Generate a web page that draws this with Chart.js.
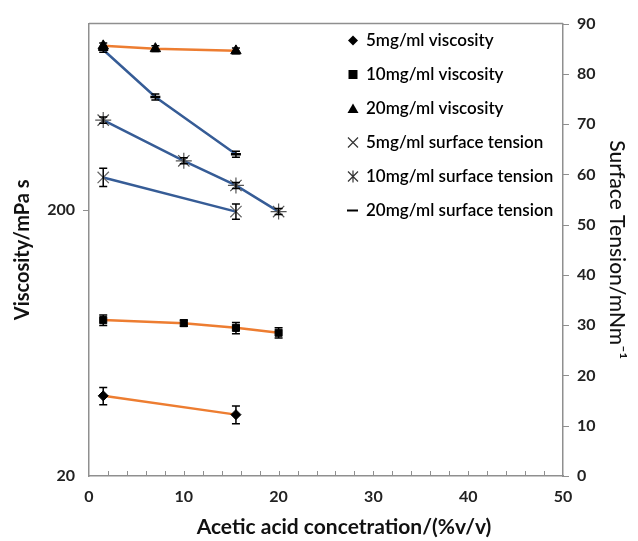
<!DOCTYPE html>
<html>
<head>
<meta charset="utf-8">
<script src="https://cdn.jsdelivr.net/npm/chart.js@4"></script>
<style>
html,body{margin:0;padding:0;background:#fff;}
#wrap{width:638px;height:541px;}
</style>
</head>
<body>
<div id="wrap"><canvas id="c" width="638" height="541"></canvas></div>
<script>
// ---- data ----
const visc5X = [1.5, 15.5];
const visc5 = [40, 34];
const visc5Err = [3, 2.6];

const visc10X = [1.5, 10, 15.5, 20];
const visc10 = [77, 75, 72, 69];
const visc10Err = [3.5, 2, 3.5, 3];

const visc20X = [1.5, 7, 15.5];
const visc20 = [825, 805, 790];
const visc20Err = [20, 20, 20];

const st5X = [1.5, 15.5];
const st5 = [59.4, 52.6];
const st5Err = [1.8, 1.5];

const st10X = [1.5, 10, 15.5, 20];
const st10 = [70.8, 62.7, 57.8, 52.6];
const st10Err = [0.6, 0.6, 0.6, 0.6];

const st20X = [1.5, 7, 15.5];
const st20 = [84.8, 75.4, 64];
const st20Err = [0.5, 0.6, 0.6];

const xTickLabels = [0, 10, 20, 30, 40, 50];
const leftTickLabels = [20, 200];
const rightTickLabels = [0, 10, 20, 30, 40, 50, 60, 70, 80, 90];

const seriesNames = ['5mg/ml viscosity', '10mg/ml viscosity', '20mg/ml viscosity',
  '5mg/ml surface tension', '10mg/ml surface tension', '20mg/ml surface tension'];
const xTitle = 'Acetic acid concetration/(%v/v)';

const ORANGE = '#ED7D31';
const BLUE = '#365C96';
const AXIS = '#8f8f8f';

function pts(xs, ys) { return xs.map((x, i) => ({x: x, y: ys[i]})); }

function ds(name, xs, ys, errs, axis, color, style, radius, ptColor, bw) {
  return {
    label: name, data: pts(xs, ys), errors: errs, yAxisID: axis,
    showLine: true, borderColor: color, borderWidth: 2.5,
    pointStyle: style, pointRadius: radius, pointHoverRadius: radius,
    pointBackgroundColor: ptColor, pointBorderColor: ptColor, pointBorderWidth: bw,
    fill: false, tension: 0
  };
}

const datasets = [
  ds(seriesNames[0], visc5X, visc5, visc5Err, 'yL', ORANGE, 'rectRot', 5, '#000', 1),
  ds(seriesNames[1], visc10X, visc10, visc10Err, 'yL', ORANGE, 'rect', 5, '#000', 1),
  ds(seriesNames[2], visc20X, visc20, visc20Err, 'yL', ORANGE, 'triangle', 6, '#000', 1),
  ds(seriesNames[3], st5X, st5, st5Err, 'yR', BLUE, 'crossRot', 8, '#666', 1.2),
  ds(seriesNames[4], st10X, st10, st10Err, 'yR', BLUE, 'star', 8, '#555', 1.2),
  ds(seriesNames[5], st20X, st20, st20Err, 'yR', BLUE, 'line', 5, '#000', 2.5)
];
const legendStyles = ['rectRot', 'rect', 'triangle', 'crossRot', 'star', 'line'];

const errorBars = {
  id: 'errorBars',
  afterDatasetsDraw(chart) {
    const ctx = chart.ctx;
    ctx.save();
    ctx.strokeStyle = '#000';
    ctx.lineWidth = 1.5;
    chart.data.datasets.forEach((d, i) => {
      const meta = chart.getDatasetMeta(i);
      const ys = chart.scales[d.yAxisID];
      d.data.forEach((p, j) => {
        const e = d.errors[j];
        if (!e) return;
        const x = meta.data[j].x;
        const y1 = ys.getPixelForValue(p.y + e);
        const y2 = ys.getPixelForValue(p.y - e);
        ctx.beginPath();
        ctx.moveTo(x, y1); ctx.lineTo(x, y2);
        ctx.moveTo(x - 4, y1); ctx.lineTo(x + 4, y1);
        ctx.moveTo(x - 4, y2); ctx.lineTo(x + 4, y2);
        ctx.stroke();
      });
    });
    ctx.restore();
  }
};

function drawMarker(ctx, style, x, y) {
  ctx.save();
  ctx.fillStyle = '#000'; ctx.strokeStyle = '#000';
  ctx.beginPath();
  if (style === 'rectRot') {
    ctx.moveTo(x, y - 5); ctx.lineTo(x + 5, y); ctx.lineTo(x, y + 5); ctx.lineTo(x - 5, y); ctx.closePath(); ctx.fill();
  } else if (style === 'rect') {
    ctx.rect(x - 4.5, y - 4.5, 9, 9); ctx.fill();
  } else if (style === 'triangle') {
    ctx.moveTo(x, y - 5); ctx.lineTo(x + 5.5, y + 4.5); ctx.lineTo(x - 5.5, y + 4.5); ctx.closePath(); ctx.fill();
  } else if (style === 'crossRot') {
    ctx.lineWidth = 1.2; ctx.strokeStyle = '#333';
    ctx.moveTo(x - 5, y - 5); ctx.lineTo(x + 5, y + 5); ctx.moveTo(x + 5, y - 5); ctx.lineTo(x - 5, y + 5); ctx.stroke();
  } else if (style === 'star') {
    ctx.lineWidth = 1.2; ctx.strokeStyle = '#333';
    ctx.moveTo(x - 5, y - 5); ctx.lineTo(x + 5, y + 5); ctx.moveTo(x + 5, y - 5); ctx.lineTo(x - 5, y + 5);
    ctx.moveTo(x, y - 6); ctx.lineTo(x, y + 6); ctx.stroke();
  } else if (style === 'line') {
    ctx.lineWidth = 2; ctx.moveTo(x - 6, y); ctx.lineTo(x + 5, y); ctx.stroke();
  }
  ctx.restore();
}

const frame = {
  id: 'frame',
  afterDraw(chart) {
    const ctx = chart.ctx;
    const a = chart.chartArea;
    const xs = chart.scales.x, yl = chart.scales.yL, yr = chart.scales.yR;
    ctx.save();
    ctx.strokeStyle = AXIS; ctx.lineWidth = 1.5;
    ctx.beginPath();
    ctx.moveTo(a.left, a.top); ctx.lineTo(a.right, a.top);
    ctx.stroke();
    ctx.lineWidth = 1;
    ctx.beginPath();
    for (let v = 2; v < 50; v += 2) {
      const px = Math.round(xs.getPixelForValue(v)) + 0.5;
      ctx.moveTo(px, a.bottom); ctx.lineTo(px, a.bottom - 5);
    }
    rightTickLabels.forEach(v => {
      const py = Math.round(yr.getPixelForValue(v)) + 0.5;
      ctx.moveTo(a.right, py); ctx.lineTo(a.right + 6, py);
    });
    leftTickLabels.forEach(v => {
      if (v === yl.min) return;
      const py = Math.round(yl.getPixelForValue(v)) + 0.5;
      ctx.moveTo(a.left, py); ctx.lineTo(a.left - 6, py);
    });
    ctx.stroke();
    // x axis title (slightly right of centre, as in the original)
    ctx.font = 'bold 21px Lato';
    ctx.fillStyle = '#111';
    ctx.textAlign = 'center';
    ctx.textBaseline = 'middle';
    ctx.fillText(xTitle, 344, 527);
    // legend
    ctx.font = '600 17px Lato';
    ctx.fillStyle = '#000';
    ctx.textBaseline = 'middle';
    ctx.textAlign = 'left';
    seriesNames.forEach((n, i) => {
      const y = 40.5 + i * 34;
      drawMarker(ctx, legendStyles[i], 353, y);
      ctx.fillText(n, 366, y);
    });
    ctx.restore();
  }
};

const tickFont = {family: 'Lato', size: 16, weight: 'bold'};

new Chart(document.getElementById('c'), {
  type: 'line',
  data: {datasets: datasets},
  plugins: [errorBars, frame],
  options: {
    responsive: false,
    animation: false,
    devicePixelRatio: 1,
    layout: {padding: {top: 20, left: 0, right: 0, bottom: 0}},
    plugins: {legend: {display: false}, tooltip: {enabled: false}},
    scales: {
      x: {
        type: 'linear', position: 'bottom', min: 0, max: 50,
        afterBuildTicks: s => { s.ticks = xTickLabels.map(v => ({value: v})); },
        afterFit: s => { s.height = 65; },
        grid: {display: false, drawTicks: false},
        border: {display: true, color: AXIS, width: 1.5},
        ticks: {font: tickFont, color: '#222', padding: 11, maxRotation: 0},
        title: {display: false}
      },
      yL: {
        type: 'logarithmic', position: 'left', min: 20, max: 1000,
        afterBuildTicks: s => { s.ticks = leftTickLabels.map(v => ({value: v})); },
        afterFit: s => { s.width = 89; },
        grid: {display: false, drawTicks: false},
        border: {display: true, color: AXIS, width: 1.5},
        ticks: {font: tickFont, color: '#222', padding: 14, callback: v => String(v)},
        title: {display: true, text: 'Viscosity/mPa s', font: {family: 'Lato', size: 20, weight: 'bold'}, color: '#111', padding: {top: 11, bottom: 0}}
      },
      yR: {
        type: 'linear', position: 'right', min: 0, max: 90,
        afterBuildTicks: s => { s.ticks = rightTickLabels.map(v => ({value: v})); },
        afterFit: s => { s.width = 75; },
        grid: {display: false, drawTicks: false},
        border: {display: true, color: AXIS, width: 1.5},
        ticks: {font: tickFont, color: '#222', padding: 14},
        title: {display: true, text: 'Surface Tension/mNm\u207B\u00B9', font: {family: 'Lato', size: 21, weight: '500'}, color: '#111', padding: {top: 9, bottom: 0}}
      }
    }
  }
});
</script>
</body>
</html>
